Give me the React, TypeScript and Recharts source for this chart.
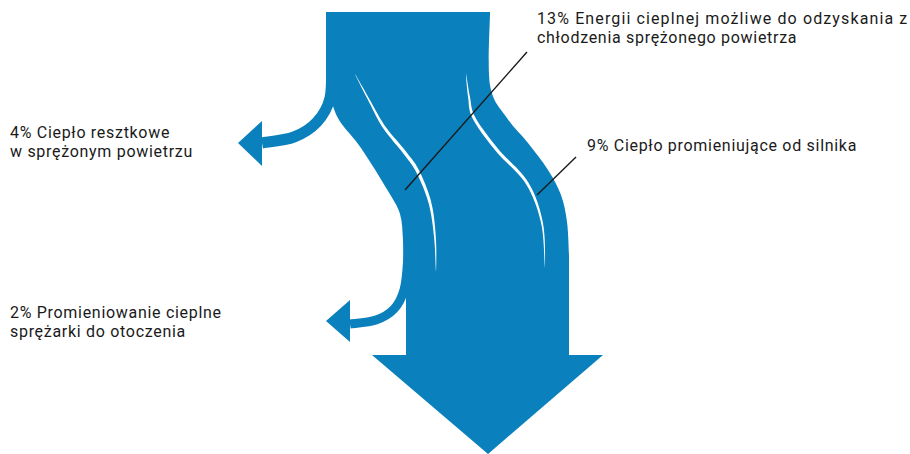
import { ComposedChart, XAxis, YAxis, ReferenceArea, ReferenceLine } from 'recharts';

// energy balance of a compressor: share of input energy leaving through each path (%)
const shareValues = [4, 2, 13, 9];
const shareTexts = [
  ['% Ciepło resztkowe', 'w sprężonym powietrzu'],
  ['% Promieniowanie cieplne', 'sprężarki do otoczenia'],
  ['% Energii cieplnej możliwe do odzyskania z', 'chłodzenia sprężonego powietrza'],
  ['% Ciepło promieniujące od silnika'],
];

const W = 910;
const H = 454;
const BLUE = '#0a80bc';
const INK = '#1a1a1a';

type Pt = [number, number];

// outline of the big arrow and its branches, in axis units (0..910 x 0..454)
const bodyRight: Pt[] = [[490, 12], [490, 85], [507, 118], [528, 143], [548, 170], [561, 195], [567, 222], [569, 255]];
const bodyLeft: Pt[] = [[406, 295], [404, 268], [403, 240], [400, 214], [388, 191], [361, 148], [341, 123], [333, 106], [327, 82], [326, 60]];
const branchTop: Pt[] = [[331.5, 30], [331.5, 62], [330, 98], [317, 122], [294, 137], [262, 143]];
const headTop: Pt[] = [[238, 143], [262, 121], [262, 166]];
const branchLow: Pt[] = [[408, 225], [407.5, 262], [404, 290], [394, 309], [376, 320], [350, 324]];
const headLow: Pt[] = [[326, 321], [350, 300], [350, 342]];
const streakA: Pt[] = [[355, 74], [370, 102], [384, 127], [405, 153], [418, 172], [430, 203], [435, 238], [436, 272]];
const streakB: Pt[] = [[466, 74], [469, 97], [474, 118], [497, 150], [527, 183], [542, 223], [545, 268]];

const labelPos: { x: number; y: number; justify?: number }[] = [
  { x: 10, y: 138 },
  { x: 10, y: 318 },
  { x: 537, y: 24, justify: 371 },
  { x: 587, y: 151 },
];
const leaders: { from: Pt; to: Pt }[] = [
  { from: [527, 52], to: [405, 190] },
  { from: [576, 157], to: [537, 195] },
];

const catmullSeg = (p: Pt[], i: number, t: number): Pt => {
  const p0 = p[i - 1] ?? p[i];
  const p1 = p[i];
  const p2 = p[i + 1];
  const p3 = p[i + 2] ?? p2;
  const c1: Pt = [p1[0] + (p2[0] - p0[0]) / 6, p1[1] + (p2[1] - p0[1]) / 6];
  const c2: Pt = [p2[0] - (p3[0] - p1[0]) / 6, p2[1] - (p3[1] - p1[1]) / 6];
  const u = 1 - t;
  return [
    u * u * u * p1[0] + 3 * u * u * t * c1[0] + 3 * u * t * t * c2[0] + t * t * t * p2[0],
    u * u * u * p1[1] + 3 * u * u * t * c1[1] + 3 * u * t * t * c2[1] + t * t * t * p2[1],
  ];
};

const Diagram = (props: any) => {
  const { x, y, width, height } = props;
  const sx = (v: number) => x + (v / W) * width;
  const sy = (v: number) => y + (v / H) * height;
  const m = (p: Pt): Pt => [sx(p[0]), sy(p[1])];

  const smooth = (pts: Pt[]) => {
    const p = pts.map(m);
    let d = '';
    for (let i = 0; i < p.length - 1; i++) {
      const p0 = p[i - 1] ?? p[i];
      const p3 = p[i + 2] ?? p[i + 1];
      const c1 = [p[i][0] + (p[i + 1][0] - p0[0]) / 6, p[i][1] + (p[i + 1][1] - p0[1]) / 6];
      const c2 = [p[i + 1][0] - (p3[0] - p[i][0]) / 6, p[i + 1][1] - (p3[1] - p[i][1]) / 6];
      d += ` C${c1[0]},${c1[1]} ${c2[0]},${c2[1]} ${p[i + 1][0]},${p[i + 1][1]}`;
    }
    return d;
  };
  const line = (pts: Pt[]) => pts.map((q) => { const a = m(q); return ` L${a[0]},${a[1]}`; }).join('');

  const s0 = m(bodyRight[0]);
  const l0 = m(bodyLeft[0]);
  const body =
    `M${sx(326)},${sy(12)} L${s0[0]},${s0[1]}` +
    smooth(bodyRight) +
    line([[569, 355], [603, 355], [488, 454], [372, 355], [406, 355]]) +
    ` L${l0[0]},${l0[1]}` +
    smooth(bodyLeft) +
    ' Z';

  const curve = (pts: Pt[]) => {
    const a = m(pts[0]);
    return `M${a[0]},${a[1]}` + smooth(pts);
  };
  const tri = (pts: Pt[]) => {
    const a = m(pts[0]);
    return `M${a[0]},${a[1]}` + line(pts.slice(1)) + ' Z';
  };

  // thin white highlight, tapering towards both ends
  const streak = (pts: Pt[], maxW: number) => {
    const p = pts.map(m);
    const samples: Pt[] = [];
    for (let i = 0; i < p.length - 1; i++) {
      for (let k = 0; k < 12; k++) samples.push(catmullSeg(p, i, k / 12));
    }
    samples.push(p[p.length - 1]);
    const n = samples.length;
    const left: Pt[] = [];
    const right: Pt[] = [];
    samples.forEach((s, i) => {
      const a = samples[Math.max(0, i - 1)];
      const b = samples[Math.min(n - 1, i + 1)];
      const dx = b[0] - a[0];
      const dy = b[1] - a[1];
      const len = Math.hypot(dx, dy) || 1;
      const t = i / (n - 1);
      const w = (maxW / 2) * Math.pow(Math.sin(Math.PI * t), 0.8);
      left.push([s[0] - (dy / len) * w, s[1] + (dx / len) * w]);
      right.push([s[0] + (dy / len) * w, s[1] - (dx / len) * w]);
    });
    const all = [...left, ...right.reverse()];
    return 'M' + all.map((q) => `${q[0]},${q[1]}`).join(' L') + ' Z';
  };

  return (
    <g>
      <path d={body} fill={BLUE} />
      <path d={curve(branchTop)} fill="none" stroke={BLUE} strokeWidth={11} />
      <path d={tri(headTop)} fill={BLUE} />
      <path d={curve(branchLow)} fill="none" stroke={BLUE} strokeWidth={9} />
      <path d={tri(headLow)} fill={BLUE} />
      <path d={streak(streakA, 3.4)} fill="#ffffff" />
      <path d={streak(streakB, 3.2)} fill="#ffffff" />
      {shareValues.map((v, i) =>
        shareTexts[i].map((t, j) => (
          <text
            key={`${i}-${j}`}
            x={sx(labelPos[i].x)}
            y={sy(labelPos[i].y + j * 19)}
            fontFamily="Roboto, sans-serif"
            fontSize={16}
            letterSpacing={0.7}
            fill={INK}
            {...(j === 0 && labelPos[i].justify ? { textLength: labelPos[i].justify, lengthAdjust: 'spacing' } : {})}
          >
            {j === 0 ? `${v}${t}` : t}
          </text>
        )),
      )}
    </g>
  );
};

export default function App() {
  return (
    <div style={{ position: 'absolute', left: 0, top: 0, width: W, height: H, background: '#fff' }}>
      <ComposedChart width={W} height={H} data={[]} margin={{ top: 0, right: 0, bottom: 0, left: 0 }}>
        <XAxis type="number" dataKey="x" domain={[0, W]} hide allowDataOverflow />
        <YAxis type="number" dataKey="y" domain={[0, H]} reversed hide allowDataOverflow />
        <ReferenceArea x1={0} x2={W} y1={0} y2={H} shape={(p: any) => <Diagram {...p} />} ifOverflow="visible" />
        {leaders.map((l, i) => (
          <ReferenceLine
            key={i}
            segment={[{ x: l.from[0], y: l.from[1] }, { x: l.to[0], y: l.to[1] }]}
            stroke={INK}
            strokeWidth={1.4}
            ifOverflow="visible"
          />
        ))}
      </ComposedChart>
    </div>
  );
}
